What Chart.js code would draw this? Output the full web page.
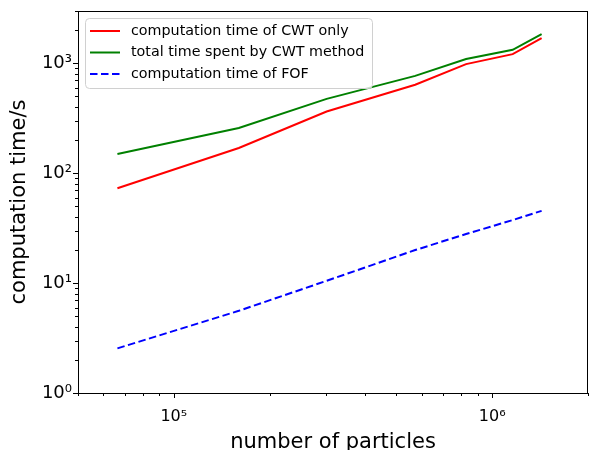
<!DOCTYPE html>
<html><head><meta charset="utf-8">
<script src="https://cdn.jsdelivr.net/npm/chart.js@4/dist/chart.umd.min.js"></script>
<style>html,body{margin:0;padding:0;background:#fff;}</style>
</head><body>
<canvas id="c" width="590" height="450"></canvas>
<script>
// ---- data (log-log plot) ----
const particles = [66500, 160000, 302000, 573000, 828000, 1160000, 1430000];
const cwtOnly   = [73, 170, 365, 640, 985, 1215, 1700];
const cwtTotal  = [150, 258, 476, 770, 1095, 1330, 1850];
const fofTime   = [2.55, 5.6, 10.5, 20, 28, 37.5, 45.5];
const seriesLabels = ['computation time of CWT only', 'total time spent by CWT method', 'computation time of FOF'];
const xTickValues = [5e4,6e4,7e4,8e4,9e4,1e5,2e5,3e5,4e5,5e5,6e5,7e5,8e5,9e5,1e6,2e6];
const yTickValues = [1,2,3,4,5,6,7,8,9,10,20,30,40,50,60,70,80,90,100,200,300,400,500,600,700,800,900,1000,2000,3000];
const xMajorLabels = {100000: '10\u2075', 1000000: '10\u2076'};
const yMajorLabels = {1: '10\u2070', 10: '10\u00B9', 100: '10\u00B2', 1000: '10\u00B3'};

const FONT = "'DejaVu Sans', sans-serif";

const framePlugin = {
  id: 'frame',
  afterDraw(chart) {
    const {ctx, chartArea: a, scales} = chart;
    ctx.save();
    ctx.strokeStyle = '#000';
    ctx.lineWidth = 1;
    const drawTicks = (scale, isX, majors) => {
      scale.ticks.forEach(t => {
        const v = t.value;
        const major = majors.hasOwnProperty(v);
        const len = major ? 5 : 3;
        const p = Math.round(scale.getPixelForValue(v)) + 0.5;
        ctx.beginPath();
        if (isX) { ctx.moveTo(p, a.bottom); ctx.lineTo(p, a.bottom + len); }
        else { ctx.moveTo(a.left, p); ctx.lineTo(a.left - len, p); }
        ctx.stroke();
      });
    };
    drawTicks(scales.x, true, xMajorLabels);
    drawTicks(scales.y, false, yMajorLabels);
    ctx.strokeRect(Math.round(a.left) + 0.5, Math.round(a.top) + 0.5, Math.round(a.right - a.left) - 1, Math.round(a.bottom - a.top));
    ctx.restore();
  }
};

const legendPlugin = {
  id: 'customLegend',
  afterDatasetsDraw(chart) {
    const {ctx} = chart;
    ctx.save();
    const x0 = 85.5, y0 = 18.5, w = 287, h = 70, r = 4;
    ctx.beginPath();
    ctx.moveTo(x0 + r, y0);
    ctx.arcTo(x0 + w, y0, x0 + w, y0 + h, r);
    ctx.arcTo(x0 + w, y0 + h, x0, y0 + h, r);
    ctx.arcTo(x0, y0 + h, x0, y0, r);
    ctx.arcTo(x0, y0, x0 + w, y0, r);
    ctx.closePath();
    ctx.fillStyle = 'rgba(255,255,255,0.8)';
    ctx.fill();
    ctx.strokeStyle = '#d0d0d0';
    ctx.lineWidth = 1;
    ctx.stroke();
    const rows = [31, 52.5, 74];
    chart.data.datasets.forEach((ds, i) => {
      const y = rows[i];
      ctx.beginPath();
      ctx.strokeStyle = ds.borderColor;
      ctx.lineWidth = ds.borderWidth;
      ctx.setLineDash(ds.borderDash || []);
      ctx.moveTo(90, y); ctx.lineTo(120, y);
      ctx.stroke();
      ctx.setLineDash([]);
      ctx.fillStyle = '#000';
      ctx.font = '14.3px ' + FONT;
      ctx.textBaseline = 'middle';
      ctx.textAlign = 'left';
      ctx.fillText(ds.label, 131, y);
    });
    ctx.restore();
  }
};

const mk = (arr) => particles.map((x, i) => ({x: x, y: arr[i]}));

new Chart(document.getElementById('c'), {
  type: 'line',
  data: {
    datasets: [
      {label: seriesLabels[0], data: mk(cwtOnly), borderColor: '#ff0000', borderWidth: 2, pointRadius: 0, tension: 0, fill: false},
      {label: seriesLabels[1], data: mk(cwtTotal), borderColor: '#008000', borderWidth: 2, pointRadius: 0, tension: 0, fill: false},
      {label: seriesLabels[2], data: mk(fofTime), borderColor: '#0000ff', borderWidth: 2, borderDash: [7.5, 3.5], pointRadius: 0, tension: 0, fill: false}
    ]
  },
  options: {
    responsive: false,
    animation: false,
    devicePixelRatio: 1,
    layout: {padding: {top: 11, right: 2, left: 0, bottom: 0}},
    plugins: {legend: {display: false}, tooltip: {enabled: false}},
    scales: {
      x: {
        type: 'logarithmic', min: 5e4, max: 2e6, position: 'bottom',
        afterBuildTicks: s => { s.ticks = xTickValues.map(v => ({value: v})); },
        afterFit: s => { s.height = 57; s.paddingLeft = 0; s.paddingRight = 0; },
        grid: {display: false, drawTicks: false},
        border: {display: false},
        ticks: {autoSkip: false, maxRotation: 0, minRotation: 0, padding: 14,
          font: {family: FONT, size: 16}, color: '#000',
          callback: v => xMajorLabels[v] || ''},
        title: {display: true, text: 'number of particles', color: '#000',
          font: {family: FONT, size: 21, lineHeight: 0.72}, padding: {top: 0, bottom: 0}}
      },
      y: {
        type: 'logarithmic', min: 1, max: 3000, position: 'left',
        afterBuildTicks: s => { s.ticks = yTickValues.map(v => ({value: v})); },
        afterFit: s => { s.width = 78; s.paddingTop = 0; s.paddingBottom = 0; },
        grid: {display: false, drawTicks: false},
        border: {display: false},
        ticks: {autoSkip: false, padding: 6,
          font: {family: FONT, size: 18}, color: '#000',
          callback: v => yMajorLabels[v] || ''},
        title: {display: true, text: 'computation time/s', color: '#000',
          font: {family: FONT, size: 21, lineHeight: 1}, padding: {top: 9, bottom: 0}}
      }
    }
  },
  plugins: [framePlugin, legendPlugin]
});
</script>
</body></html>
